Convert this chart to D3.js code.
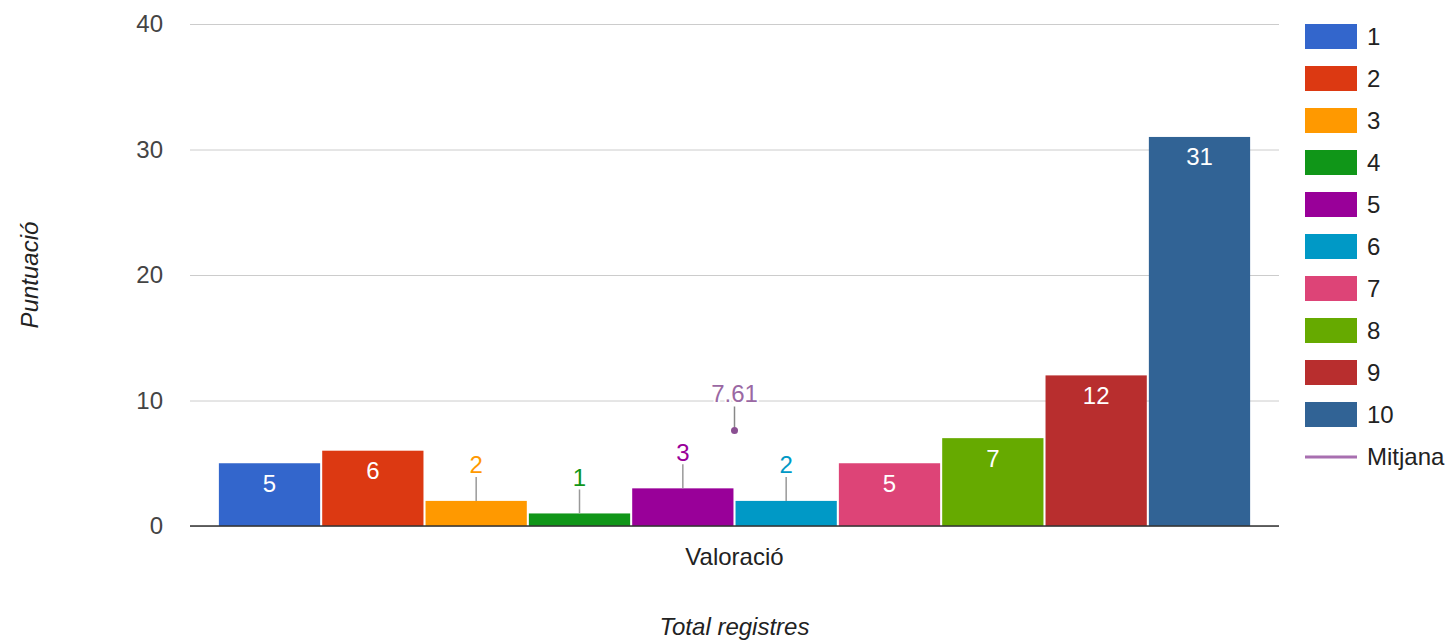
<!DOCTYPE html>
<html>
<head>
<meta charset="utf-8">
<script src="https://cdn.jsdelivr.net/npm/d3@7"></script>
<style>
  body { margin: 0; background: #fff; }
  text { font-family: "Liberation Sans", Arial, sans-serif; }
</style>
</head>
<body>
<svg id="chart"></svg>
<script>
const categories = ["Valoració"];
const seriesNames = ["1", "2", "3", "4", "5", "6", "7", "8", "9", "10"];
const seriesValues = [5, 6, 2, 1, 3, 2, 5, 7, 12, 31];
const meanName = "Mitjana";
const meanValue = 7.61;
const yTicks = [0, 10, 20, 30, 40];

const colors = ["#3366cc", "#dc3912", "#ff9900", "#109618", "#990099",
                "#0099c6", "#dd4477", "#66aa00", "#b82e2e", "#316395"];
const meanColor = "#994499";

const svgWidth = 1454, svgHeight = 642;
const margin = {top: 24, right: 175, bottom: 116, left: 190},
    width = svgWidth - margin.left - margin.right,
    height = svgHeight - margin.top - margin.bottom;

const chart = d3.select("#chart")
    .attr("width", svgWidth)
    .attr("height", svgHeight);

const g = chart.append("g")
    .attr("transform", `translate(${margin.left},${margin.top})`);

// scales
var x0 = d3.scaleBand().domain(categories).range([0, width]).paddingInner(0).paddingOuter(0.028);
var x1 = d3.scaleBand().domain(seriesNames).range([0, x0.bandwidth()]).paddingInner(0.02);
var yScale = d3.scaleLinear().domain([0, 40]).range([height, 0]);

// gridlines + y tick labels
var yAxis = d3.axisLeft(yScale).tickValues(yTicks).tickSize(-width).tickPadding(27);
g.append("g")
    .call(yAxis)
    .call(a => a.select(".domain").remove())
    .call(a => a.selectAll("line").attr("stroke", "#cccccc"))
    .call(a => a.selectAll("text")
        .attr("fill", "#444").style("font-size", "24px")
        .style("font-family", "'Liberation Sans', Arial, sans-serif"));

// bars
const bars = seriesValues.map((v, i) => ({name: seriesNames[i], value: v, color: colors[i]}));
const group = g.append("g").attr("transform", `translate(${x0(categories[0])},0)`);

group.selectAll("rect")
    .data(bars)
    .enter()
    .append("rect")
    .attr("x", d => x1(d.name))
    .attr("y", d => yScale(d.value))
    .attr("width", x1.bandwidth())
    .attr("height", d => height - yScale(d.value))
    .attr("fill", d => d.color);

// baseline
g.append("line")
    .attr("x1", 0).attr("x2", width)
    .attr("y1", yScale(0)).attr("y2", yScale(0))
    .attr("stroke", "#333").attr("stroke-width", 1.5);

// value labels: inside for tall bars, outside with leader for short ones
const minInside = 4;
bars.forEach(d => {
    const cx = x1(d.name) + x1.bandwidth() / 2;
    const top = yScale(d.value);
    if (d.value >= minInside) {
        group.append("text")
            .attr("x", cx).attr("y", top + 20)
            .attr("dy", "0.35em")
            .attr("text-anchor", "middle")
            .style("font-size", "24px")
            .attr("fill", "#fff")
            .text(d.value);
    } else {
        group.append("line")
            .attr("x1", cx).attr("x2", cx)
            .attr("y1", top - 24).attr("y2", top)
            .attr("stroke", "#999").attr("stroke-width", 1.5);
        group.append("text")
            .attr("x", cx).attr("y", top - 36)
            .attr("dy", "0.35em")
            .attr("text-anchor", "middle")
            .style("font-size", "24px")
            .attr("fill", d.color)
            .attr("stroke", "#fff").attr("stroke-width", 3)
            .attr("paint-order", "stroke")
            .text(d.value);
    }
});

// mean point with annotation
const mx = x0(categories[0]) + x0.bandwidth() / 2;
const my = yScale(meanValue);
g.append("line")
    .attr("x1", mx).attr("x2", mx)
    .attr("y1", my - 24).attr("y2", my - 3)
    .attr("stroke", "#888").attr("stroke-width", 1.5);
g.append("circle")
    .attr("cx", mx).attr("cy", my).attr("r", 3.5)
    .attr("fill", "#8a4f92");
g.append("text")
    .attr("x", mx).attr("y", my - 37)
    .attr("dy", "0.35em")
    .attr("text-anchor", "middle")
    .style("font-size", "24px")
    .attr("fill", "#9a68a3")
    .attr("stroke", "#fff").attr("stroke-width", 4)
    .attr("paint-order", "stroke")
    .text(d3.format(".2f")(meanValue));

// category label
g.append("text")
    .attr("x", mx).attr("y", height + 31)
    .attr("dy", "0.35em")
    .attr("text-anchor", "middle")
    .style("font-size", "24px")
    .attr("fill", "#222")
    .text(categories[0]);

// axis titles
chart.append("text")
    .attr("x", margin.left + width / 2).attr("y", 627)
    .attr("dy", "0.35em")
    .attr("text-anchor", "middle")
    .style("font-size", "24px").style("font-style", "italic")
    .attr("fill", "#222")
    .text("Total registres");

chart.append("text")
    .attr("transform", "translate(30,275) rotate(-90)")
    .attr("dy", "0.35em")
    .attr("text-anchor", "middle")
    .style("font-size", "24px").style("font-style", "italic")
    .attr("fill", "#222")
    .text("Puntuació");

// legend
const legend = chart.append("g").attr("transform", "translate(1305,24)");
const legendItems = legend.selectAll("g.item")
    .data(bars)
    .enter()
    .append("g")
    .attr("class", "item")
    .attr("transform", (d, i) => `translate(0,${i * 42})`);
legendItems.append("rect")
    .attr("width", 52).attr("height", 25)
    .attr("fill", d => d.color);
legendItems.append("text")
    .attr("x", 62).attr("y", 12.5).attr("dy", "0.35em")
    .style("font-size", "24px")
    .attr("fill", "#222")
    .text(d => d.name);

const meanItem = legend.append("g").attr("transform", `translate(0,${bars.length * 42})`);
meanItem.append("line")
    .attr("x1", 0).attr("x2", 52).attr("y1", 13).attr("y2", 13)
    .attr("stroke", "#a86fb0").attr("stroke-width", 3);
meanItem.append("text")
    .attr("x", 62).attr("y", 12.5).attr("dy", "0.35em")
    .style("font-size", "24px")
    .attr("fill", "#222")
    .text(meanName);
</script>
</body>
</html>
